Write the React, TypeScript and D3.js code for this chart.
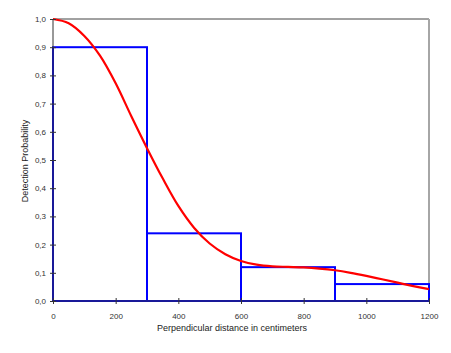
import React, { useEffect, useRef } from "react";
import * as d3 from "d3";

// Detection curve (distance in cm, probability)
const curveDistances = [0, 50, 100, 150, 200, 250, 300, 350, 400, 450, 500, 550, 600, 650, 700, 750, 800, 850, 900, 950, 1000, 1050, 1100, 1150, 1200];
const curveValues = [1.0, 0.985, 0.94, 0.87, 0.772, 0.655, 0.542, 0.435, 0.337, 0.26, 0.204, 0.166, 0.142, 0.129, 0.123, 0.121, 0.119, 0.115, 0.109, 0.1, 0.089, 0.077, 0.065, 0.053, 0.042];

// Histogram bins
const binStarts = [0, 300, 600, 900];
const binEnds = [300, 600, 900, 1200];
const binValues = [0.9, 0.24, 0.12, 0.06];

const xTicks = [0, 200, 400, 600, 800, 1000, 1200];
const yTicks = [0, 0.1, 0.2, 0.3, 0.4, 0.5, 0.6, 0.7, 0.8, 0.9, 1.0];

const App = () => {
  const ref = useRef<SVGSVGElement>(null);

  useEffect(() => {
    const svg = d3.select(ref.current);
    svg.selectAll("*").remove();

    const margin = { top: 19, right: 22, bottom: 52, left: 53 };
    const width = 451;
    const height = 353;

    const x = d3.scaleLinear().domain([0, 1200]).range([margin.left, width - margin.right]);
    const y = d3.scaleLinear().domain([0, 1]).range([height - margin.bottom, margin.top]);

    // frame: top dark, right gray
    svg.append("line")
      .attr("x1", x(0)).attr("x2", x(1200))
      .attr("y1", y(1)).attr("y2", y(1))
      .attr("stroke", "#444").attr("stroke-width", 1);
    svg.append("line")
      .attr("x1", x(1200)).attr("x2", x(1200))
      .attr("y1", y(1)).attr("y2", y(0))
      .attr("stroke", "#a6a6a6").attr("stroke-width", 2);

    // histogram bars
    svg.selectAll("rect.bin")
      .data(binValues)
      .join("rect")
      .attr("class", "bin")
      .attr("x", (d, i) => x(binStarts[i]))
      .attr("y", d => y(d))
      .attr("width", (d, i) => x(binEnds[i]) - x(binStarts[i]))
      .attr("height", d => y(0) - y(d))
      .attr("fill", "none")
      .attr("stroke", "#0000ff")
      .attr("stroke-width", 2);

    // detection curve
    const line = d3.line<number>()
      .x((d, i) => x(curveDistances[i]))
      .y(d => y(d))
      .curve(d3.curveCatmullRom);
    svg.append("path")
      .attr("d", line(curveValues))
      .attr("fill", "none")
      .attr("stroke", "#ff0000")
      .attr("stroke-width", 2.2);

    const fmt = (d: number) => d3.format(".1f")(d).replace(".", ",");

    // y axis
    const yAxis = svg.append("g")
      .attr("transform", `translate(${margin.left},0)`)
      .call(d3.axisLeft(y).tickValues(yTicks).tickFormat(d => fmt(+d)).tickSize(3).tickPadding(4));
    yAxis.select(".domain").attr("d", `M0,${y(0)}V${y(1)}`).attr("stroke", "#333");
    yAxis.selectAll(".tick line").attr("x2", 3).attr("x1", -3).attr("stroke", "#333");
    yAxis.selectAll("text").attr("font-family", "Liberation Sans, Arial, sans-serif").attr("font-size", 8).attr("fill", "#333");

    // x axis
    const xAxis = svg.append("g")
      .attr("transform", `translate(0,${y(0)})`)
      .call(d3.axisBottom(x).tickValues(xTicks).tickFormat(d3.format("d")).tickSize(3).tickPadding(9));
    xAxis.select(".domain").attr("d", `M${x(0)},0H${x(1200)}`).attr("stroke", "#333");
    xAxis.selectAll(".tick line").attr("y1", -3).attr("y2", 3).attr("stroke", "#333");
    xAxis.selectAll("text").attr("font-family", "Liberation Sans, Arial, sans-serif").attr("font-size", 8).attr("fill", "#333");

    // titles
    svg.append("text")
      .attr("x", 232)
      .attr("y", 331)
      .attr("text-anchor", "middle")
      .attr("font-family", "Liberation Sans, Arial, sans-serif")
      .attr("font-size", 9)
      .attr("fill", "#222")
      .text("Perpendicular distance in centimeters");

    svg.append("text")
      .attr("transform", "rotate(-90)")
      .attr("x", -161)
      .attr("y", 28)
      .attr("text-anchor", "middle")
      .attr("font-family", "Liberation Sans, Arial, sans-serif")
      .attr("font-size", 9)
      .attr("fill", "#222")
      .text("Detection Probability");
  }, []);

  return (
    <svg ref={ref} width={451} height={353} style={{ position: "absolute", left: 0, top: 0, background: "#fff" }}></svg>
  );
};

export default App;
